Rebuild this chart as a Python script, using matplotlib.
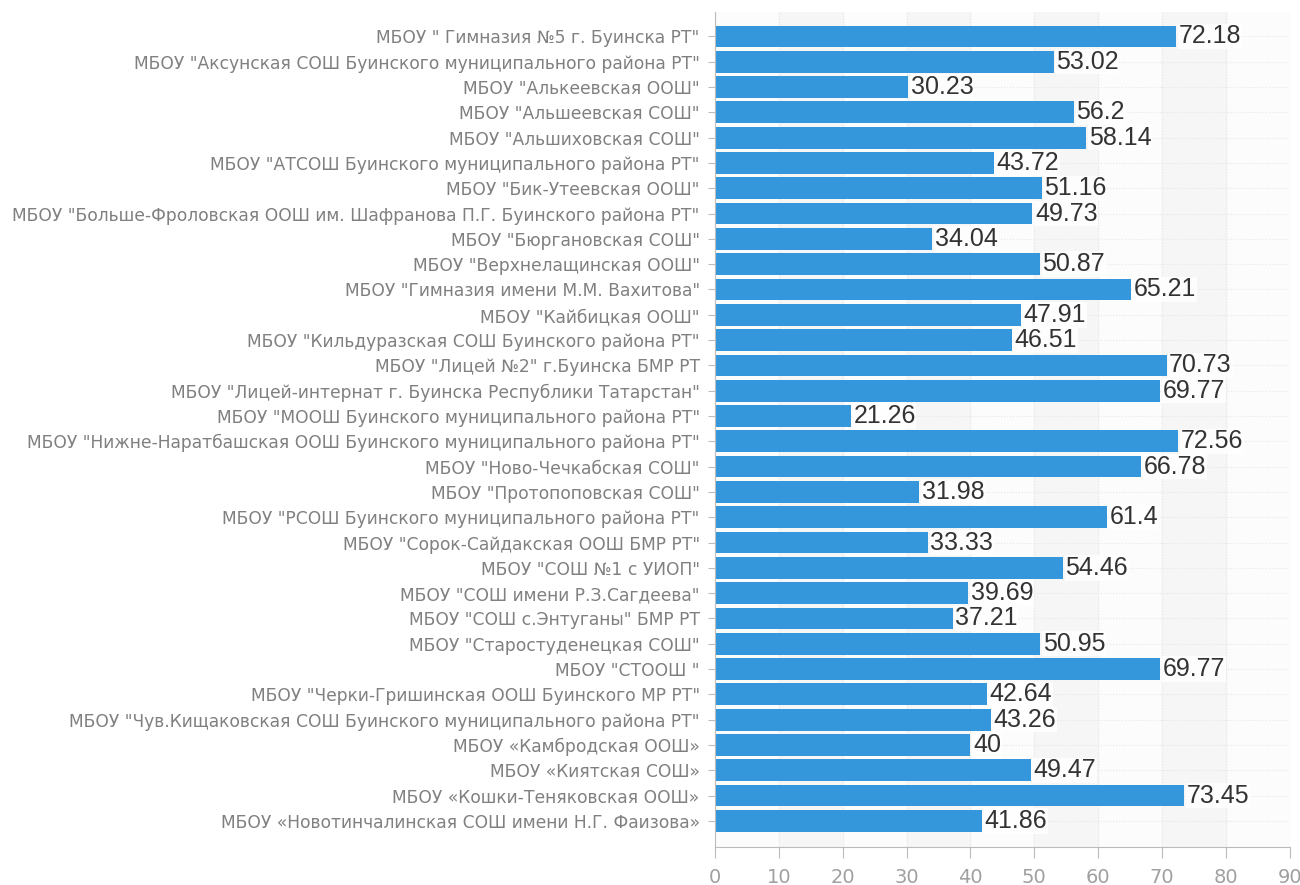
import matplotlib.pyplot as plt
import numpy as np

schools = [
    'МБОУ " Гимназия №5 г. Буинска РТ"',
    'МБОУ "Аксунская СОШ Буинского муниципального района РТ"',
    'МБОУ "Алькеевская ООШ"',
    'МБОУ "Альшеевская СОШ"',
    'МБОУ "Альшиховская СОШ"',
    'МБОУ "АТСОШ Буинского муниципального района РТ"',
    'МБОУ "Бик-Утеевская ООШ"',
    'МБОУ "Больше-Фроловская ООШ им. Шафранова П.Г. Буинского района РТ"',
    'МБОУ "Бюргановская СОШ"',
    'МБОУ "Верхнелащинская ООШ"',
    'МБОУ "Гимназия имени М.М. Вахитова"',
    'МБОУ "Кайбицкая ООШ"',
    'МБОУ "Кильдуразская СОШ Буинского района РТ"',
    'МБОУ "Лицей №2" г.Буинска БМР РТ',
    'МБОУ "Лицей-интернат г. Буинска Республики Татарстан"',
    'МБОУ "МООШ Буинского муниципального района РТ"',
    'МБОУ "Нижне-Наратбашская ООШ Буинского муниципального района РТ"',
    'МБОУ "Ново-Чечкабская СОШ"',
    'МБОУ "Протопоповская СОШ"',
    'МБОУ "РСОШ Буинского муниципального района РТ"',
    'МБОУ "Сорок-Сайдакская ООШ БМР РТ"',
    'МБОУ "СОШ №1 с УИОП"',
    'МБОУ "СОШ имени Р.З.Сагдеева"',
    'МБОУ "СОШ с.Энтуганы" БМР РТ',
    'МБОУ "Старостуденецкая СОШ"',
    'МБОУ "СТООШ "',
    'МБОУ "Черки-Гришинская ООШ Буинского МР РТ"',
    'МБОУ "Чув.Кищаковская СОШ Буинского муниципального района РТ"',
    'МБОУ «Камбродская ООШ»',
    'МБОУ «Киятская СОШ»',
    'МБОУ «Кошки-Теняковская ООШ»',
    'МБОУ «Новотинчалинская СОШ имени Н.Г. Фаизова»',
]
values = [72.18, 53.02, 30.23, 56.2, 58.14, 43.72, 51.16, 49.73, 34.04, 50.87,
          65.21, 47.91, 46.51, 70.73, 69.77, 21.26, 72.56, 66.78, 31.98, 61.4,
          33.33, 54.46, 39.69, 37.21, 50.95, 69.77, 42.64, 43.26, 40, 49.47,
          73.45, 41.86]
xticks = [0, 10, 20, 30, 40, 50, 60, 70, 80, 90]

fig = plt.figure(figsize=(13, 8.85), dpi=100)
ax = fig.add_axes([0.55, 0.043, 0.442, 0.943])

# faint column shading like the original widget
ax.set_facecolor('#fcfcfc')
for i in range(0, 9):
    if i % 2 == 1:
        ax.axvspan(xticks[i], xticks[i + 1], color='#f6f6f6', zorder=0)

y = np.arange(len(schools))
ax.barh(y, values, height=0.86, color='#3497db', zorder=2)

for yi, v in zip(y, values):
    ax.text(v + 0.4, yi, f'{v:g}', va='center', ha='left', fontsize=18,
            color='#333333', zorder=3,
            family=['Liberation Sans Narrow', 'Liberation Sans'],
            bbox=dict(facecolor='white', edgecolor='none', alpha=0.85, pad=0.5))

ax.set_yticks(y)
ax.set_yticklabels(schools, fontsize=12.3, color='#808080')
ax.set_ylim(len(schools) - 1 + 1.03, -0.95)
ax.set_xlim(0, 90)
ax.set_xticks(xticks)
ax.set_xticklabels([str(t) for t in xticks], fontsize=14, color='#a0a0a0')

ax.grid(axis='both', color='#e6e6e6', linestyle=':', linewidth=0.8, zorder=1)
ax.set_axisbelow(True)
for s in ['top', 'right']:
    ax.spines[s].set_visible(False)
ax.spines['left'].set_color('#bbbbbb')
ax.spines['bottom'].set_color('#bbbbbb')
ax.tick_params(axis='y', length=5, color='#bbbbbb', pad=6)
ax.tick_params(axis='x', length=8, color='#bbbbbb', pad=7)

fig.savefig('out.png', dpi=100)
